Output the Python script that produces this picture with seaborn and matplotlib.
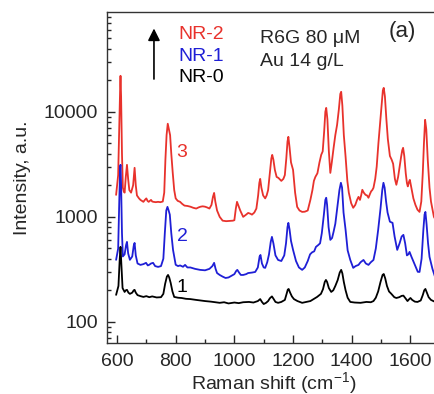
import matplotlib
matplotlib.use('Agg')
import matplotlib.pyplot as plt
import numpy as np
import pandas as pd
import seaborn as sns

# spectres SERS (cm-1, a.u.)
nr2_x = [597, 604, 608, 611, 612, 614, 617, 620, 623, 626, 630, 634, 638, 642, 648, 655, 660, 664,
         668, 675, 680, 690, 695, 700, 704, 708, 712, 716, 720, 724, 732, 740, 748, 756, 761,
         765, 769, 773, 777, 781, 785, 790, 795, 800, 807, 815, 822, 830, 840, 850, 860, 870,
         878, 885, 892, 900, 907, 915, 922, 927, 931, 935, 941, 950, 960, 972, 985, 995, 1000,
         1005, 1009, 1013, 1020, 1030, 1040, 1047, 1055, 1060, 1068, 1075, 1081, 1085, 1088,
         1092, 1098, 1105, 1110, 1115, 1121, 1126, 1129, 1133, 1138, 1144, 1150, 1160, 1167,
         1172, 1177, 1181, 1184, 1188, 1193, 1200, 1207, 1214, 1222, 1231, 1240, 1250, 1259,
         1266, 1271, 1276, 1283, 1290, 1296, 1301, 1306, 1310, 1313, 1317, 1322, 1327, 1332,
         1338, 1344, 1350, 1356, 1361, 1364, 1368, 1373, 1379, 1385, 1390, 1398, 1405, 1412,
         1418, 1423, 1428, 1432, 1436, 1441, 1447, 1452, 1457, 1462, 1466, 1470, 1474, 1480,
         1485, 1491, 1497, 1502, 1506, 1509, 1513, 1518, 1523, 1530, 1536, 1541, 1547, 1552,
         1558, 1563, 1568, 1572, 1575, 1579, 1584, 1588, 1591, 1595, 1598, 1603, 1610, 1617,
         1624, 1631, 1637, 1642, 1646, 1650, 1654, 1659, 1665, 1670, 1680, 1700]
nr2_y = [1620, 2500, 8000, 18000, 22000, 14000, 4000, 1900, 1750, 1700, 2400, 3130, 2300, 1800, 1700, 2000, 2930, 2000,
         1600, 1500, 1450, 1390, 1450, 1500, 1420, 1390, 1420, 1450, 1400, 1390, 1380, 1390, 1380, 1400, 1700,
         3500, 6000, 7700, 6800, 6000, 4000, 2620, 1800, 1500, 1420, 1390, 1330, 1280, 1270, 1250, 1220, 1200,
         1230, 1250, 1260, 1250, 1230, 1200, 1300, 1550, 1690, 1400, 1150, 1000, 920, 910, 915, 920, 930,
         1200, 1390, 1300, 1150, 1000, 1050, 1090, 1070, 1050, 1100, 1200, 1600, 2100, 2300,
         1900, 1600, 1500, 1600, 1800, 2600, 3600, 3890, 3500, 2800, 2400, 2350, 2200, 2300,
         2500, 3600, 5200, 5780, 4600, 3300, 2800, 1700, 1245, 1150, 1115, 1120, 1150, 1450,
         1800, 2200, 2400, 2600, 3300, 3900, 4200, 6500, 10000, 10900, 8500, 4200, 2620, 3300,
         4500, 6000, 7500, 10500, 14800, 15500, 11500, 6000, 3730, 2200, 1700, 1350, 1220, 1300,
         1450, 1550, 1450, 1600, 1810, 1700, 1620, 1600, 1520, 1650, 1750, 1800, 1890, 2300,
         3000, 5070, 8000, 12000, 16000, 16900, 14000, 8500, 5500, 3800, 3500, 3200, 2300, 2020,
         2400, 3000, 3700, 4300, 4540, 3800, 2600, 2100, 1950, 2150, 2250, 1900, 1500, 1300,
         1170, 1115, 1400, 2600, 5000, 8390, 6800, 3500, 1900, 1400, 1000, 800]

nr1_x = [597, 604, 608, 611, 612, 614, 617, 620, 626, 631, 634, 638, 644, 652, 657, 660, 664, 670,
         680, 690, 699, 705, 710, 716, 723, 730, 740, 750, 758, 763, 768, 772, 776, 780, 785,
         791, 800, 808, 815, 825, 832, 840, 850, 866, 883, 900, 915, 925, 931, 936, 941, 950,
         960, 970, 980, 990, 1000, 1006, 1010, 1016, 1022, 1030, 1040, 1047, 1060, 1071, 1080,
         1086, 1089, 1094, 1100, 1105, 1112, 1118, 1124, 1128, 1133, 1140, 1149, 1160, 1170,
         1176, 1181, 1184, 1188, 1193, 1200, 1210, 1220, 1231, 1240, 1250, 1258, 1265, 1272,
         1278, 1286, 1292, 1298, 1305, 1310, 1313, 1316, 1321, 1327, 1333, 1338, 1344, 1352,
         1358, 1363, 1367, 1372, 1379, 1386, 1395, 1405, 1413, 1423, 1430, 1440, 1448, 1457,
         1465, 1474, 1482, 1490, 1498, 1504, 1508, 1512, 1517, 1522, 1530, 1539, 1546, 1555,
         1563, 1570, 1576, 1582, 1588, 1593, 1597, 1603, 1615, 1625, 1631, 1638, 1644, 1648,
         1651, 1655, 1660, 1665, 1675, 1685, 1700]
nr1_y = [390, 500, 1500, 3000, 3130, 2000, 700, 420, 440, 540, 578, 450, 390, 420, 530, 565, 430, 360,
         349, 355, 365, 345, 350, 360, 365, 340, 334, 340, 400, 700, 1150, 1245, 1150, 1050, 700,
         485, 350, 340, 345, 335, 349, 330, 330, 320, 313, 310, 320, 340, 365, 320, 292, 280,
         270, 262, 265, 275, 285, 305, 313, 295, 280, 280, 285, 292, 295, 299, 330,
         420, 434, 360, 330, 327, 370, 440, 580, 645, 560, 430, 389, 380, 430,
         560, 800, 877, 760, 590, 485, 380, 330, 313, 330, 380, 440, 460, 470,
         518, 540, 560, 700, 1050, 1450, 1520, 1300, 800, 604, 630, 720, 860, 1300,
         1800, 2110, 1900, 1100, 752, 480, 389, 327, 340, 349, 370, 389, 360, 349,
         370, 389, 500, 752, 1200, 1800, 2110, 1900, 1400, 1100, 900, 877, 650, 485,
         560, 650, 674, 560, 430, 440, 464, 420, 349, 300, 299, 400, 750, 1050,
         1115, 850, 560, 416, 320, 262, 250]

nr0_x = [597, 605, 609, 612, 615, 619, 626, 630, 634, 639, 644, 652, 657, 660, 664, 670, 680, 690,
         700, 710, 720, 735, 750, 758, 764, 770, 774, 778, 783, 789, 795, 808, 820, 835, 850,
         870, 885, 900, 920, 935, 950, 965, 980, 1000, 1015, 1030, 1050, 1065, 1080, 1088,
         1094, 1100, 1108, 1115, 1121, 1128, 1134, 1140, 1149, 1160, 1172, 1178, 1182, 1185,
         1190, 1196, 1203, 1215, 1231, 1245, 1259, 1270, 1282, 1295, 1302, 1308, 1312, 1316,
         1322, 1330, 1337, 1344, 1352, 1359, 1364, 1368, 1373, 1379, 1386, 1395, 1410, 1430,
         1450, 1465, 1474, 1482, 1490, 1498, 1505, 1509, 1514, 1520, 1527, 1535, 1545, 1552,
         1562, 1570, 1576, 1583, 1590, 1596, 1600, 1606, 1615, 1624, 1635, 1642, 1647, 1651,
         1656, 1662, 1670, 1680, 1690]
nr0_y = [181, 220, 380, 518, 350, 210, 193, 200, 202, 190, 185, 190, 200, 202, 190, 180, 176, 173,
         176, 172, 175, 171, 172, 185, 230, 270, 280, 265, 235, 195, 173, 170, 169, 166, 165,
         162, 160, 158, 156, 154, 152, 154, 150, 153, 151, 154, 155, 153, 158, 165,
         155, 148, 152, 158, 168, 175, 165, 155, 152, 155, 162, 185, 203, 206,
         190, 175, 165, 158, 152, 155, 158, 165, 173, 185, 205, 240, 251, 240,
         210, 193, 200, 220, 250, 295, 313, 290, 240, 200, 170, 155, 153, 152,
         155, 154, 158, 170, 195, 240, 280, 286, 260, 220, 195, 185, 172, 169,
         172, 177, 178, 168, 158, 165, 169, 162, 156, 155, 160, 180, 200, 206,
         190, 172, 162, 157, 155]

series = ['NR-2', 'NR-1', 'NR-0']
colors = ['#e8322c', '#1f1fd6', 'black']
num_labels = ['3', '2', '1']

sns.set_style('ticks')
plt.rcParams['font.family'] = ['Liberation Sans', 'DejaVu Sans']
plt.rcParams['mathtext.fontset'] = 'custom'
plt.rcParams['mathtext.rm'] = 'Liberation Sans'
plt.rcParams['font.size'] = 14

fig = plt.figure(figsize=(4.35, 3.94), dpi=100)
ax = fig.add_axes([0.246, 0.1294, 0.765, 0.840])

for xs, ys, col in zip([nr2_x, nr1_x, nr0_x], [nr2_y, nr1_y, nr0_y], colors):
    sns.lineplot(x=xs, y=ys, color=col, lw=1.3, ax=ax, sort=False)

ax.set_yscale('log')
ax.set_xlim(566, 1692)
ax.set_ylim(63, 89000)
ax.set_xticks([600, 800, 1000, 1200, 1400, 1600])
ax.set_xticks([700, 900, 1100, 1300, 1500, 1700], minor=True)
ax.set_yticks([100, 1000, 10000])
ax.set_yticklabels(['100', '1000', '10000'])
ax.tick_params(which='major', direction='in', length=6, width=1, labelsize=14)
ax.tick_params(axis='x', which='major', pad=7.5)
ax.tick_params(axis='y', which='major', pad=6.5)
ax.tick_params(which='minor', direction='in', length=3, width=1)
for s in ax.spines.values():
    s.set_linewidth(1.0)
    s.set_color('#333333')

ax.set_xlabel('Raman shift (cm$^{-1}$)', fontsize=14, labelpad=0)
ax.set_ylabel('Intensity, a.u.', fontsize=14, labelpad=9)

# légende manuelle
ax.text(808, 54000, 'NR-2', color=colors[0], fontsize=14, va='center')
ax.text(808, 33400, 'NR-1', color=colors[1], fontsize=14, va='center')
ax.text(808, 21100, 'NR-0', color=colors[2], fontsize=14, va='center')
ax.annotate('', xy=(726, 66000), xytext=(726, 19300),
            arrowprops=dict(arrowstyle='-|>', color='black', lw=1.2, mutation_scale=18))
ax.text(1088, 49600, 'R6G 80 μM', fontsize=14, va='center')
ax.text(1088, 29900, 'Au 14 g/L', fontsize=14, va='center')
ax.text(1525, 57800, '(a)', fontsize=16, va='center')

for lab, yv, col in zip(num_labels, [4070, 645, 215], colors):
    ax.text(822, yv, lab, color=col, fontsize=14, va='center', ha='center')

fig.savefig('out.png', dpi=100)
